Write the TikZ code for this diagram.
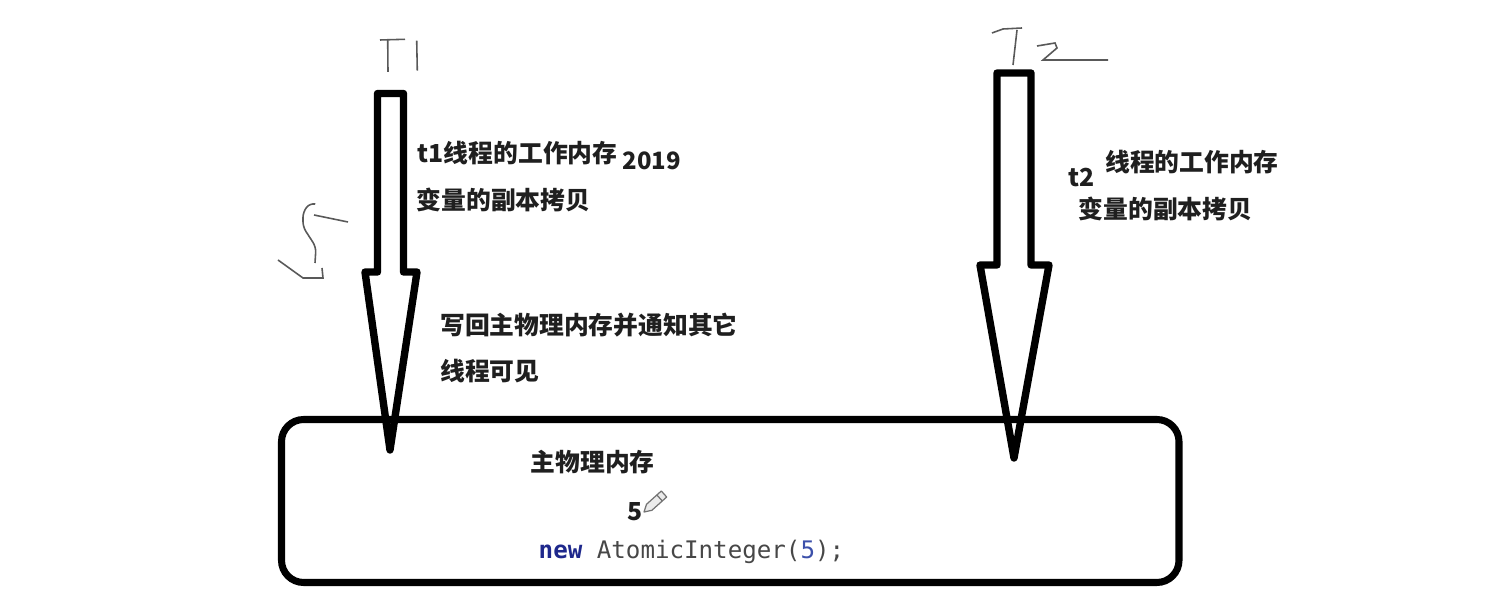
\documentclass[tikz,border=0pt]{standalone}
\usepackage{fontspec}
\usepackage{tikz}
\newfontfamily\cjk{Noto Sans CJK SC}
\setmonofont{DejaVu Sans Mono}
\tikzset{
  hollow arrow/.style={draw=black,line width=2.1pt,line join=round},
  memory box/.style={draw=black,line width=2pt,rounded corners=6.3pt,inner sep=0pt},
  ink/.style={draw=black!65,line width=0.45pt},
  note/.style={anchor=west,inner sep=0pt,text=black!88,font=\cjk\bfseries\fontsize{7.05}{8}\selectfont},
  code/.style={anchor=west,inner sep=0pt,text=black!72,font=\ttfamily\fontsize{6.87}{8}\selectfont}
}
\definecolor{keyword}{RGB}{30,40,140}
\definecolor{number}{RGB}{60,80,170}
\begin{document}
\begin{tikzpicture}[x=0.01cm,y=-0.01cm]
    \useasboundingbox (0,0) rectangle (1506,616);
    % main memory
    \draw[memory box] (281.5,419.5) rectangle (1179,582.5);
    % thread arrows
    \draw[hollow arrow] (377.5,93.5) -- (403.5,93.5) -- (403.5,272) -- (417,272) -- (390,450) -- (365,272) -- (377.5,272) -- cycle;
    \draw[hollow arrow] (997,73) -- (1031,73) -- (1031,265) -- (1049,265) -- (1014,458) -- (980,265) -- (997,265) -- cycle;
    % handwriting
    \draw[ink] (380,40) -- (405,39.3);
    \draw[ink] (387.7,40) -- (388,72);
    \draw[ink] (416.7,40.7) -- (417.3,70.7);
    \draw[ink] (992,33) -- (1003,29) -- (1022,28);
    \draw[ink] (1017,30) -- (1013,65);
    \draw[ink] (1037,46) -- (1055,43) -- (1057,48) -- (1043,60) -- (1108,60);
    \draw[ink,rounded corners=1.5pt] (315,204) -- (310,203) -- (303,212) -- (303,227) -- (316,247) -- (315,263);
    \draw[ink] (314,215) -- (348,222);
    \draw[ink] (278,260) -- (303,278) -- (323,278) -- (322,268);
    % labels
    \node[note] (t1work) at (417,153) {t1线程的工作内存};
    \node[note,font=\cjk\bfseries\fontsize{6.8}{8}\selectfont] (year) at (622,161) {2019};
    \node[note] (t1copy) at (416,200) {变量的副本拷贝};
    \node[note] (writeback) at (439.5,325) {写回主物理内存并通知其它};
    \node[note] (visible) at (439.5,371) {线程可见};
    \node[note] (t2name) at (1068,178) {t2};
    \node[note] (t2work) at (1104.5,162) {线程的工作内存};
    \node[note] (t2copy) at (1078,209) {变量的副本拷贝};
    \node[note] (memory) at (530,462) {主物理内存};
    \node[note] (value) at (627,512) {5};
    \node[code] (atomic) at (538,551.5) {\textcolor{keyword}{\bfseries new} AtomicInteger(\textcolor{number}{5});};
    % pencil
    \draw[black!55,fill=black!8,line width=0.35pt,line join=round] (644,512) -- (646.5,504.3) -- (661.3,491) -- (666.7,497) -- (651.9,510.3) -- cycle;
    \draw[black!55,line width=0.35pt] (656.8,494.9) -- (662.2,500.9);
\end{tikzpicture}
\end{document}
